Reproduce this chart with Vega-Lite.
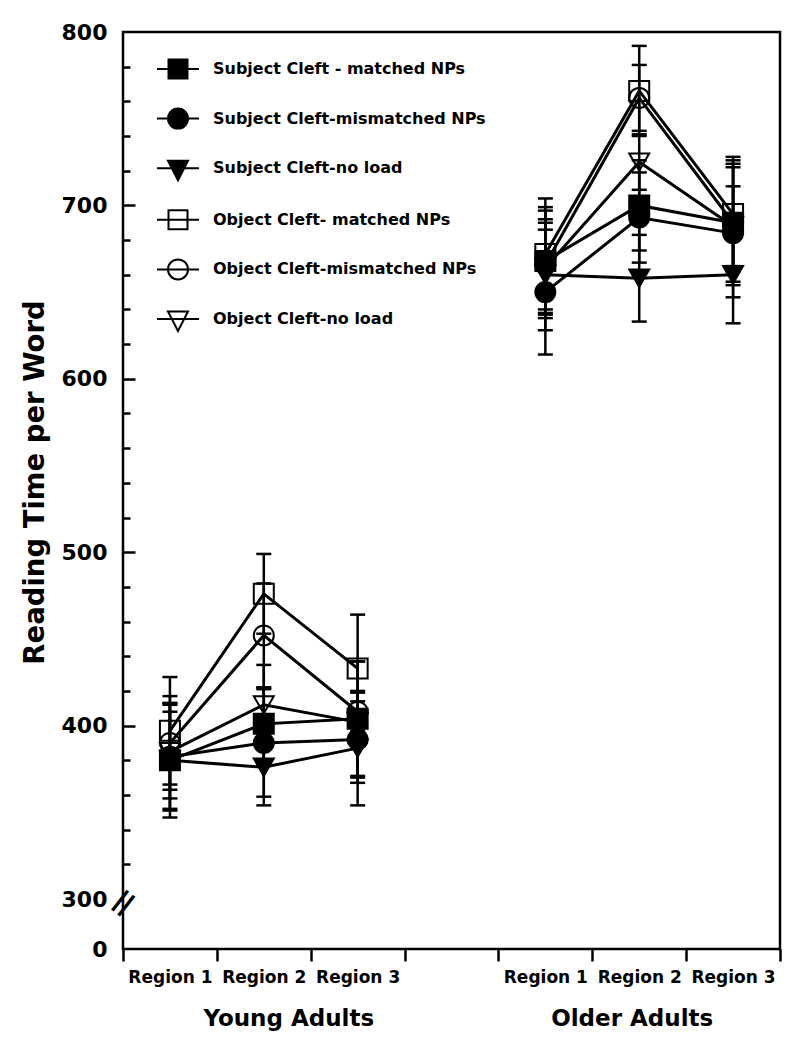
{
  "$schema": "https://vega.github.io/schema/vega-lite/v6.json",
  "width": 657,
  "height": 917,
  "autosize": {"type": "none"},
  "padding": {"left": 123, "top": 32, "right": 20, "bottom": 100},
  "background": "white",
  "config": {
    "view": {"stroke": "black", "strokeWidth": 2.5},
    "axis": {"grid": false, "labelFont": "DejaVu Sans", "labelFontWeight": "bold", "labelColor": "black", "tickColor": "black", "titleColor": "black", "labelOverlap": false}
  },
  "data": {
    "values": [
      {"series": "Subject Cleft - matched NPs", "group": "Young", "slot": "Y1", "rt": 380, "lo": 352, "hi": 408},
      {"series": "Subject Cleft-mismatched NPs", "group": "Young", "slot": "Y1", "rt": 382, "lo": 351, "hi": 413},
      {"series": "Subject Cleft-no load", "group": "Young", "slot": "Y1", "rt": 380, "lo": 347, "hi": 413},
      {"series": "Object Cleft- matched NPs", "group": "Young", "slot": "Y1", "rt": 397, "lo": 366, "hi": 428},
      {"series": "Object Cleft-mismatched NPs", "group": "Young", "slot": "Y1", "rt": 390, "lo": 363, "hi": 417},
      {"series": "Object Cleft-no load", "group": "Young", "slot": "Y1", "rt": 385, "lo": 358, "hi": 412},
      {"series": "Subject Cleft - matched NPs", "group": "Young", "slot": "Y2", "rt": 401, "lo": 380, "hi": 422},
      {"series": "Subject Cleft-mismatched NPs", "group": "Young", "slot": "Y2", "rt": 390, "lo": 359, "hi": 421},
      {"series": "Subject Cleft-no load", "group": "Young", "slot": "Y2", "rt": 376, "lo": 354, "hi": 398},
      {"series": "Object Cleft- matched NPs", "group": "Young", "slot": "Y2", "rt": 476, "lo": 453, "hi": 499},
      {"series": "Object Cleft-mismatched NPs", "group": "Young", "slot": "Y2", "rt": 452, "lo": 422, "hi": 482},
      {"series": "Object Cleft-no load", "group": "Young", "slot": "Y2", "rt": 412, "lo": 389, "hi": 435},
      {"series": "Subject Cleft - matched NPs", "group": "Young", "slot": "Y3", "rt": 404, "lo": 371, "hi": 437},
      {"series": "Subject Cleft-mismatched NPs", "group": "Young", "slot": "Y3", "rt": 392, "lo": 370, "hi": 414},
      {"series": "Subject Cleft-no load", "group": "Young", "slot": "Y3", "rt": 387, "lo": 354, "hi": 420},
      {"series": "Object Cleft- matched NPs", "group": "Young", "slot": "Y3", "rt": 433, "lo": 402, "hi": 464},
      {"series": "Object Cleft-mismatched NPs", "group": "Young", "slot": "Y3", "rt": 408, "lo": 397, "hi": 419},
      {"series": "Object Cleft-no load", "group": "Young", "slot": "Y3", "rt": 402, "lo": 367, "hi": 437},
      {"series": "Subject Cleft - matched NPs", "group": "Older", "slot": "O1", "rt": 668, "lo": 637, "hi": 699},
      {"series": "Subject Cleft-mismatched NPs", "group": "Older", "slot": "O1", "rt": 650, "lo": 614, "hi": 686},
      {"series": "Subject Cleft-no load", "group": "Older", "slot": "O1", "rt": 660, "lo": 628, "hi": 692},
      {"series": "Object Cleft- matched NPs", "group": "Older", "slot": "O1", "rt": 672, "lo": 640, "hi": 704},
      {"series": "Object Cleft-mismatched NPs", "group": "Older", "slot": "O1", "rt": 666, "lo": 635, "hi": 697},
      {"series": "Object Cleft-no load", "group": "Older", "slot": "O1", "rt": 664, "lo": 638, "hi": 690},
      {"series": "Subject Cleft - matched NPs", "group": "Older", "slot": "O2", "rt": 700, "lo": 674, "hi": 726},
      {"series": "Subject Cleft-mismatched NPs", "group": "Older", "slot": "O2", "rt": 693, "lo": 667, "hi": 719},
      {"series": "Subject Cleft-no load", "group": "Older", "slot": "O2", "rt": 658, "lo": 633, "hi": 683},
      {"series": "Object Cleft- matched NPs", "group": "Older", "slot": "O2", "rt": 766, "lo": 740, "hi": 792},
      {"series": "Object Cleft-mismatched NPs", "group": "Older", "slot": "O2", "rt": 762, "lo": 743, "hi": 781},
      {"series": "Object Cleft-no load", "group": "Older", "slot": "O2", "rt": 725, "lo": 709, "hi": 741},
      {"series": "Subject Cleft - matched NPs", "group": "Older", "slot": "O3", "rt": 690, "lo": 656, "hi": 724},
      {"series": "Subject Cleft-mismatched NPs", "group": "Older", "slot": "O3", "rt": 684, "lo": 647, "hi": 722},
      {"series": "Subject Cleft-no load", "group": "Older", "slot": "O3", "rt": 660, "lo": 632, "hi": 688},
      {"series": "Object Cleft- matched NPs", "group": "Older", "slot": "O3", "rt": 695, "lo": 662, "hi": 728},
      {"series": "Object Cleft-mismatched NPs", "group": "Older", "slot": "O3", "rt": 690, "lo": 654, "hi": 726},
      {"series": "Object Cleft-no load", "group": "Older", "slot": "O3", "rt": 688, "lo": 665, "hi": 711}
    ]
  },
  "layer": [
    {
      "mark": {"type": "rule", "color": "black", "strokeWidth": 2.5},
      "encoding": {
        "x": {"field": "slot", "type": "nominal",
          "scale": {"type": "band", "domain": ["Y1", "Y2", "Y3", "G", "O1", "O2", "O3"], "paddingInner": 0, "paddingOuter": 0},
          "axis": {"orient": "bottom", "title": null, "domain": false, "tickBand": "extent", "tickSize": 12, "tickWidth": 2.5, "labelAngle": 0, "labelFontSize": 17, "labelPadding": 8, "labelExpr": "indexof(['Y1','Y2','Y3','O1','O2','O3'], datum.value) >= 0 ? 'Region ' + substring(datum.value, 1) : ''"}},
        "y": {"field": "lo", "type": "quantitative",
          "scale": {"domain": [0, 300, 800], "range": [917, 867, 0], "nice": false, "zero": false},
          "axis": {"orient": "left", "title": null, "domain": false, "labels": false, "values": [400, 500, 600, 700], "tickSize": -12, "tickWidth": 2.5}},
        "y2": {"field": "hi"}
      }
    },
    {
      "mark": {"type": "tick", "color": "black", "opacity": 1, "size": 15, "thickness": 2.5},
      "encoding": {
        "x": {"field": "slot", "type": "nominal",
          "scale": {"type": "band", "domain": ["Y1", "Y2", "Y3", "G", "O1", "O2", "O3"], "paddingInner": 0, "paddingOuter": 0},
          "axis": {"orient": "bottom", "title": null, "domain": false, "ticks": false, "values": ["Y2", "O2"], "labelAngle": 0, "labelFontSize": 23, "labelPadding": 58,
            "labelOffset": {"condition": {"test": "datum.value === 'Y2'", "value": 25}, "value": -7},
            "labelExpr": "datum.value === 'Y2' ? 'Young Adults' : 'Older Adults'"}},
        "y": {"field": "lo", "type": "quantitative",
          "scale": {"domain": [0, 300, 800], "range": [917, 867, 0], "nice": false, "zero": false},
          "axis": {"orient": "left", "title": null, "domain": false, "labels": false, "values": [320, 340, 360, 380, 420, 440, 460, 480, 520, 540, 560, 580, 620, 640, 660, 680, 720, 740, 760, 780], "tickSize": -7, "tickWidth": 2.5}}
      }
    },
    {
      "mark": {"type": "tick", "color": "black", "opacity": 1, "size": 15, "thickness": 2.5},
      "encoding": {
        "x": {"field": "slot", "type": "nominal",
          "scale": {"type": "band", "domain": ["Y1", "Y2", "Y3", "G", "O1", "O2", "O3"], "paddingInner": 0, "paddingOuter": 0},
          "axis": null},
        "y": {"field": "hi", "type": "quantitative",
          "scale": {"domain": [0, 300, 800], "range": [917, 867, 0], "nice": false, "zero": false},
          "axis": {"orient": "left", "title": "Reading Time per Word", "domain": false, "ticks": false, "values": [0, 300, 400, 500, 600, 700, 800], "labelFontSize": 22, "labelPadding": 16,
            "titleFont": "DejaVu Sans", "titleFontWeight": "bold", "titleFontSize": 27.5, "titleAngle": -90, "titleX": -88, "titleY": 450, "titleAlign": "center", "titleBaseline": "middle"}}
      }
    },
    {
      "mark": {"type": "line", "color": "black", "strokeWidth": 3},
      "encoding": {
        "x": {"field": "slot", "type": "nominal",
          "scale": {"type": "band", "domain": ["Y1", "Y2", "Y3", "G", "O1", "O2", "O3"], "paddingInner": 0, "paddingOuter": 0},
          "axis": null},
        "y": {"field": "rt", "type": "quantitative",
          "scale": {"domain": [0, 300, 800], "range": [917, 867, 0], "nice": false, "zero": false},
          "axis": {"orient": "left", "title": null, "domain": false, "ticks": false, "values": [276], "labelExpr": "'='", "labelFontSize": 40, "labelFontWeight": "normal", "labelAngle": -52, "labelAlign": "center", "labelBaseline": "middle", "labelPadding": 0}},
        "detail": [{"field": "series"}, {"field": "group"}]
      }
    },
    {
      "mark": {"type": "point", "opacity": 1, "size": 400, "stroke": "black", "strokeWidth": 2},
      "encoding": {
        "x": {"field": "slot", "type": "nominal",
          "scale": {"type": "band", "domain": ["Y1", "Y2", "Y3", "G", "O1", "O2", "O3"], "paddingInner": 0, "paddingOuter": 0},
          "axis": null},
        "y": {"field": "rt", "type": "quantitative",
          "scale": {"domain": [0, 300, 800], "range": [917, 867, 0], "nice": false, "zero": false},
          "axis": null},
        "shape": {"field": "series", "type": "nominal",
          "scale": {"domain": ["Subject Cleft - matched NPs", "Subject Cleft-mismatched NPs", "Subject Cleft-no load", "Object Cleft- matched NPs", "Object Cleft-mismatched NPs", "Object Cleft-no load"],
            "range": ["square", "circle", "triangle-down", "square", "circle", "triangle-down"]},
          "legend": null},
        "fill": {"field": "series", "type": "nominal",
          "scale": {"domain": ["Subject Cleft - matched NPs", "Subject Cleft-mismatched NPs", "Subject Cleft-no load", "Object Cleft- matched NPs", "Object Cleft-mismatched NPs", "Object Cleft-no load"],
            "range": ["black", "black", "black", "transparent", "transparent", "transparent"]},
          "legend": null}
      }
    },
    {
      "transform": [{"filter": "false"}],
      "mark": {"type": "point", "opacity": 1, "size": 1764, "stroke": "black", "strokeWidth": 2},
      "encoding": {
        "x": {"field": "slot", "type": "nominal",
          "scale": {"type": "band", "domain": ["Y1", "Y2", "Y3", "G", "O1", "O2", "O3"], "paddingInner": 0, "paddingOuter": 0},
          "axis": null},
        "y": {"field": "rt", "type": "quantitative",
          "scale": {"domain": [0, 300, 800], "range": [917, 867, 0], "nice": false, "zero": false},
          "axis": null},
        "shape": {"field": "series", "type": "nominal",
          "scale": {"domain": ["Subject Cleft - matched NPs", "Subject Cleft-mismatched NPs", "Subject Cleft-no load", "Object Cleft- matched NPs", "Object Cleft-mismatched NPs", "Object Cleft-no load"],
            "range": ["M-1,0H1M-0.452,-0.452H0.452V0.452H-0.452Z", "M-1,0H1M-0.476,0A0.476,0.476,0,1,1,0.476,0A0.476,0.476,0,1,1,-0.476,0Z", "M-1,0H1M-0.476,-0.357L0.476,-0.357L0,0.571Z", "M-1,0H1M-0.452,-0.452H0.452V0.452H-0.452Z", "M-1,0H1M-0.476,0A0.476,0.476,0,1,1,0.476,0A0.476,0.476,0,1,1,-0.476,0Z", "M-1,0H1M-0.476,-0.357L0.476,-0.357L0,0.571Z"]},
          "legend": {"title": null, "orient": "none", "legendX": 33, "legendY": 15, "direction": "vertical", "padding": 0, "labelFont": "DejaVu Sans", "labelFontSize": 16, "labelFontWeight": "bold", "labelColor": "black", "labelOffset": 13, "labelLimit": 400, "rowPadding": 13.6, "symbolSize": 1764, "symbolStrokeWidth": 2, "symbolStrokeColor": "black", "symbolOpacity": 1}},
        "fill": {"field": "series", "type": "nominal",
          "scale": {"domain": ["Subject Cleft - matched NPs", "Subject Cleft-mismatched NPs", "Subject Cleft-no load", "Object Cleft- matched NPs", "Object Cleft-mismatched NPs", "Object Cleft-no load"],
            "range": ["black", "black", "black", "transparent", "transparent", "transparent"]},
          "legend": {"title": null, "orient": "none", "legendX": 33, "legendY": 15, "direction": "vertical", "padding": 0, "labelFont": "DejaVu Sans", "labelFontSize": 16, "labelFontWeight": "bold", "labelColor": "black", "labelOffset": 13, "labelLimit": 400, "rowPadding": 13.6, "symbolSize": 1764, "symbolStrokeWidth": 2, "symbolStrokeColor": "black", "symbolOpacity": 1}},
        "stroke": {"field": "series", "type": "nominal",
          "scale": {"domain": ["Subject Cleft - matched NPs", "Subject Cleft-mismatched NPs", "Subject Cleft-no load", "Object Cleft- matched NPs", "Object Cleft-mismatched NPs", "Object Cleft-no load"],
            "range": ["black", "black", "black", "black", "black", "black"]},
          "legend": {"title": null, "orient": "none", "legendX": 33, "legendY": 15, "direction": "vertical", "padding": 0, "labelFont": "DejaVu Sans", "labelFontSize": 16, "labelFontWeight": "bold", "labelColor": "black", "labelOffset": 13, "labelLimit": 400, "rowPadding": 13.6, "symbolSize": 1764, "symbolStrokeWidth": 2, "symbolStrokeColor": "black", "symbolOpacity": 1}}
      }
    }
  ],
  "resolve": {
    "scale": {"shape": "independent", "fill": "independent", "stroke": "independent"},
    "axis": {"x": "independent", "y": "independent"}
  }
}
